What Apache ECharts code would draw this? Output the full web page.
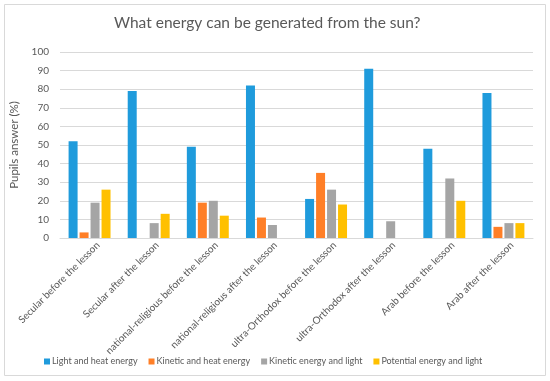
<!DOCTYPE html>
<html><head><meta charset="utf-8">
<script src="https://cdn.jsdelivr.net/npm/echarts@6/dist/echarts.min.js"></script>
<style>html,body{margin:0;padding:0;background:#fff}#c{width:550px;height:381px}</style>
</head><body><div id="c"></div>
<script>
const categories = ["Secular before the lesson","Secular after the lesson","national-religious before the lesson","national-religious after the lesson","ultra-Orthodox before the lesson","ultra-Orthodox after the lesson","Arab before the lesson","Arab after the lesson"];
const lightHeat = [52,79,49,82,21,91,48,78];
const kineticHeat = [3,0,19,11,35,0,0,6];
const kineticLight = [19,8,20,7,26,9,32,8];
const potentialLight = [26,13,12,0,18,0,20,8];
const seriesNames = ["Light and heat energy","Kinetic and heat energy","Kinetic energy and light","Potential energy and light"];
const colors = ["#1f9bdc","#ff7f27","#a5a5a5","#ffc000"];
const yTicks = {min:0,max:100,interval:10};

const font = "Lato";
const chart = echarts.init(document.getElementById('c'));
const data = [lightHeat,kineticHeat,kineticLight,potentialLight];
chart.setOption({
  animation:false,
  textStyle:{fontFamily:font},
  graphic:[{type:'rect',shape:{x:4.5,y:4.5,width:541,height:371},style:{fill:'none',stroke:'#d9d9d9',lineWidth:1}}],
  title:{text:"What energy can be generated from the sun?",left:109,top:10,textStyle:{fontFamily:font,fontSize:15.5,fontWeight:'normal',color:'#595959'}},
  legend:{top:352,left:39,itemWidth:6,itemHeight:6,itemGap:11,icon:'rect',textStyle:{fontFamily:font,fontSize:9,color:'#595959',padding:[0,0,0,-3]},data:seriesNames},
  grid:{left:60,right:17,top:52,bottom:143,containLabel:false},
  xAxis:{type:'category',data:categories,axisLine:{lineStyle:{color:'#d9d9d9'}},axisTick:{show:false},
    axisLabel:{rotate:45,interval:0,fontFamily:font,fontSize:10,color:'#595959',margin:7,verticalAlign:'top',padding:[0,-7,0,0]}},
  yAxis:{type:'value',min:yTicks.min,max:yTicks.max,interval:yTicks.interval,name:"Pupils answer (%)",nameLocation:'middle',nameGap:25,
    nameTextStyle:{fontFamily:font,fontSize:11.5,color:'#595959'},
    axisLabel:{fontFamily:font,fontSize:10,color:'#595959',margin:11},axisLine:{show:false},axisTick:{show:false},
    splitLine:{lineStyle:{color:'#d9d9d9'}}},
  series:data.map((d,i)=>({name:seriesNames[i],type:'bar',data:d,itemStyle:{color:colors[i]},barWidth:9,barGap:'22%',barCategoryGap:'30%'}))
});
</script></body></html>
